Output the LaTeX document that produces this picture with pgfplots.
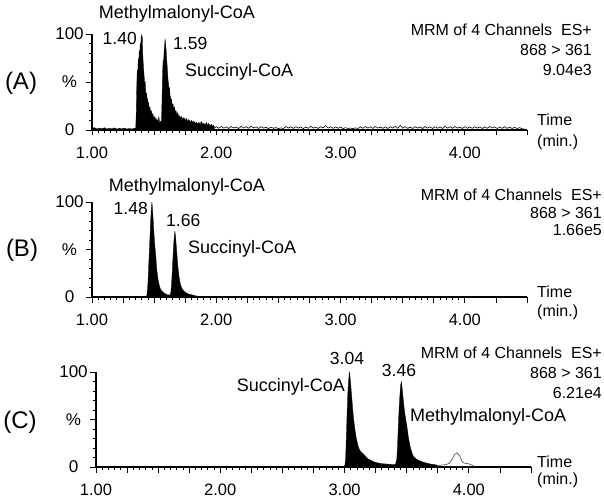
\documentclass[border=0pt]{standalone}
\usepackage{fontspec}
\setmainfont{Liberation Sans}
\usepackage{pgfplots}
\pgfplotsset{compat=1.18}
\newcommand\fs[1]{\fontsize{#1pt}{#1pt}\selectfont}
\pgfplotsset{chrom/.style={
  scale only axis, width=435pt, anchor=south west,
  xmin=1, xmax=4.5, ymin=0, ymax=100,
  axis x line*=bottom, axis y line*=left,
  axis line style={line width=1.2pt, -},
  tick align=outside,
  xtick={1,2,3,4},
  minor x tick num=19,
  extra x ticks={1.25,1.5,1.75,2.25,2.5,2.75,3.25,3.5,3.75,4.25,4.5},
  extra x tick labels={},
  ytick={0,50,100}, yticklabels={0,\%,100},
  minor y tick num=4,
  major tick length=5.5pt, minor tick length=3pt,
  tick style={line width=0.8pt, black},
  /pgf/number format/assume math mode=true,
  xticklabel style={font=\fs{16.5}, yshift=-8pt, /pgf/number format/fixed, /pgf/number format/fixed zerofill, /pgf/number format/precision=2},
  yticklabel style={font=\fs{17}, anchor=center, xshift=-17pt},
  clip=false,
}}
\begin{document}
\begin{tikzpicture}
\useasboundingbox (0,0) rectangle (604pt,501pt);
% ---------------- Panel A ----------------
\begin{axis}[chrom, at={(92pt,371pt)}, height=96pt]
\addplot[fill=black, draw=black, line width=0.3pt] coordinates {
(1.000,1.5)(1.020,2.5)(1.040,1.0)(1.060,2.0)(1.080,1.2)(1.100,2.4)(1.120,1.0)(1.140,1.8)
(1.160,1.2)(1.180,2.2)(1.200,1.0)(1.220,1.8)(1.240,1.2)(1.260,2.0)(1.280,1.0)(1.300,1.6)
(1.320,1.0)(1.340,1.8)(1.352,2)(1.356,18)(1.360,45)(1.364,62)(1.368,58)(1.372,74)
(1.376,70)(1.380,83)(1.384,78)(1.388,90)(1.392,86)(1.396,100)(1.400,93)(1.404,98)
(1.408,80)(1.412,70)(1.416,62)(1.420,55)(1.424,48)(1.428,50)(1.432,40)(1.436,36)
(1.440,38)(1.444,30)(1.448,32)(1.452,26)(1.456,28)(1.460,22)(1.466,24)(1.472,19)
(1.478,20)(1.484,15)(1.490,17)(1.496,12)(1.502,14)(1.508,10)(1.514,13)(1.520,9)
(1.526,11)(1.532,8)(1.538,14)(1.544,7)(1.550,9)(1.556,8)(1.560,12)(1.564,35)
(1.568,60)(1.572,72)(1.576,70)(1.580,82)(1.584,88)(1.588,95)(1.592,90)(1.596,84)
(1.600,76)(1.604,68)(1.608,60)(1.612,52)(1.616,48)(1.620,42)(1.624,44)(1.628,36)
(1.632,34)(1.636,30)(1.640,32)(1.646,26)(1.652,27)(1.658,22)(1.664,24)(1.670,19)
(1.676,20)(1.682,16)(1.690,18)(1.698,14)(1.706,15)(1.714,12)(1.722,14)(1.730,11)
(1.740,13)(1.750,10)(1.760,12)(1.770,9)(1.780,11)(1.790,8)(1.800,10)(1.810,8)
(1.820,9)(1.830,7)(1.840,8)(1.850,6)(1.860,8)(1.870,6)(1.880,9)(1.890,6)
(1.900,7)(1.910,5)(1.920,8)(1.930,5)(1.940,7)(1.950,4)(1.960,6)(1.970,4)
(1.980,5)(1.985,2)} \closedcycle;
\addplot[black, line width=0.6pt] coordinates {
(1.985,2)(2.000,3.5)(2.020,1.8)(2.040,3.8)(2.060,2.0)(2.080,3.2)(2.100,1.6)(2.120,3.6)
(2.140,2.2)(2.160,3.0)(2.180,1.5)(2.200,3.8)(2.220,2.0)(2.240,3.4)(2.260,1.8)(2.280,3.9)
(2.300,2.1)(2.320,3.2)(2.340,1.6)(2.360,3.5)(2.380,2.0)(2.400,2.8)(2.420,1.5)(2.440,3.0)
(2.460,1.8)(2.480,2.5)(2.500,1.5)(2.520,2.2)(2.540,1.6)(2.560,3.6)(2.580,2.0)(2.600,3.3)
(2.620,1.7)(2.640,3.5)(2.660,2.0)(2.680,3.1)(2.700,1.5)(2.720,3.0)(2.740,1.8)(2.760,3.8)
(2.780,2.0)(2.800,3.0)(2.820,1.6)(2.840,3.4)(2.860,2.2)(2.880,4.5)(2.900,2.0)(2.920,3.4)
(2.940,1.7)(2.960,3.2)(2.980,1.8)(3.000,3.0)(3.020,1.5)(3.040,2.4)(3.060,1.6)(3.080,2.0)
(3.100,1.5)(3.120,2.2)(3.140,1.6)(3.160,3.2)(3.180,1.8)(3.200,3.6)(3.220,2.0)(3.240,3.3)
(3.260,1.7)(3.280,3.6)(3.300,2.0)(3.320,3.0)(3.340,1.8)(3.360,3.2)(3.380,1.6)(3.400,3.5)
(3.420,2.0)(3.440,3.8)(3.460,1.8)(3.480,4.8)(3.500,2.0)(3.520,3.5)(3.540,1.7)(3.560,3.0)
(3.580,1.6)(3.600,3.4)(3.620,2.0)(3.640,3.1)(3.660,1.5)(3.680,3.6)(3.700,2.0)(3.720,3.3)
(3.740,1.6)(3.760,3.5)(3.780,1.8)(3.800,3.2)(3.820,1.6)(3.840,3.8)(3.860,2.0)(3.880,3.4)
(3.900,1.8)(3.920,3.6)(3.940,2.0)(3.960,3.0)(3.980,1.6)(4.000,3.5)(4.020,1.8)(4.040,3.2)
(4.060,1.7)(4.080,3.4)(4.100,2.0)(4.120,3.0)(4.140,1.6)(4.160,3.3)(4.180,1.8)(4.200,3.6)
(4.220,2.0)(4.240,3.2)(4.260,1.6)(4.280,3.0)(4.300,1.8)(4.320,3.4)(4.340,1.7)(4.360,3.1)
(4.380,1.6)(4.400,2.8)(4.420,1.5)(4.440,2.5)(4.460,1.2)(4.480,1.0)};
\end{axis}
% ---------------- Panel B ----------------
\begin{axis}[chrom, at={(92pt,204pt)}, height=95pt]
\addplot[fill=black, draw=black, line width=0.3pt] coordinates {
(1.000,0.3)(1.437,0.5)(1.442,2)(1.447,8)(1.452,20)(1.457,35)(1.462,50)(1.467,65)
(1.472,80)(1.477,92)(1.482,100)(1.487,92)(1.492,82)(1.497,70)(1.502,60)(1.507,52)
(1.512,45)(1.517,36)(1.522,28)(1.532,18)(1.542,12)(1.552,8)(1.567,5.5)(1.582,4)
(1.602,2.5)(1.622,2)(1.632,3)(1.637,8)(1.642,18)(1.647,30)(1.652,43)(1.657,55)
(1.662,64)(1.667,69)(1.672,64)(1.677,56)(1.682,47)(1.687,39)(1.692,31)(1.702,20)
(1.712,13)(1.727,8)(1.742,6)(1.762,4)(1.782,3)(1.812,2)(1.842,1)(1.892,0.5)
(4.500,0.3)} \closedcycle;
\end{axis}
% ---------------- Panel C ----------------
\begin{axis}[chrom, at={(96pt,34pt)}, height=95pt]
\addplot[fill=white, draw=black!65, line width=0.7pt] coordinates {
(3.680,1)(3.730,1.5)(3.780,2)(3.815,2.5)(3.845,4)(3.865,8)(3.885,13)(3.905,15)
(3.925,12)(3.945,6)(3.965,4)(3.995,3.5)(4.025,2)(4.045,0.5)};
\addplot[fill=black, draw=black, line width=0.3pt] coordinates {
(1.000,0.5)(2.995,0.5)(3.003,2)(3.009,10)(3.015,35)(3.021,60)(3.027,80)(3.033,92)
(3.039,100)(3.043,96)(3.049,88)(3.055,78)(3.061,68)(3.067,58)(3.075,48)(3.085,38)
(3.095,30)(3.107,23)(3.120,18)(3.135,15.5)(3.150,14)(3.170,11)(3.190,8.5)(3.210,7)
(3.235,5.5)(3.260,4.5)(3.300,3.5)(3.350,3)(3.395,2.5)(3.410,3)(3.420,8)(3.427,25)
(3.433,45)(3.439,62)(3.445,75)(3.451,86)(3.457,90)(3.461,86)(3.467,78)(3.473,70)
(3.481,60)(3.490,52)(3.500,44)(3.515,30)(3.530,20)(3.545,14)(3.555,11)(3.575,8.5)
(3.595,7)(3.615,6)(3.635,5)(3.665,4)(3.695,3)(3.725,2.5)(3.745,2)(3.750,0.5)
(4.500,0.5)} \closedcycle;
\end{axis}
% ---------------- Text ----------------
\begin{scope}[every node/.style={inner sep=0pt}]
% A
\node[font=\fs{24}] at (21pt,418pt) {(A)};
\node[font=\fs{18}] at (177pt,487pt) {Methylmalonyl-CoA};
\node[font=\fs{17.5}, anchor=east] at (137pt,463pt) {1.40};
\node[font=\fs{17.5}, anchor=west] at (173pt,458pt) {1.59};
\node[font=\fs{18}, anchor=west] at (185pt,429pt) {Succinyl-CoA};
\node[font=\fs{16}, anchor=east] at (592pt,471pt) {MRM of 4 Channels\ \ ES+};
\node[font=\fs{16}, anchor=east] at (592pt,451pt) {868 > 361};
\node[font=\fs{16}, anchor=east] at (592pt,431pt) {9.04e3};
\node[font=\fs{16}, anchor=west] at (537pt,381pt) {Time};
\node[font=\fs{16}, anchor=west] at (537pt,359pt) {(min.)};
% B
\node[font=\fs{24}] at (22pt,251pt) {(B)};
\node[font=\fs{18}] at (187pt,314pt) {Methylmalonyl-CoA};
\node[font=\fs{17.5}, anchor=east] at (148pt,293pt) {1.48};
\node[font=\fs{17.5}, anchor=west] at (166pt,281pt) {1.66};
\node[font=\fs{18}, anchor=west] at (188pt,252pt) {Succinyl-CoA};
\node[font=\fs{16}, anchor=east] at (602pt,306pt) {MRM of 4 Channels\ \ ES+};
\node[font=\fs{16}, anchor=east] at (602pt,288pt) {868 > 361};
\node[font=\fs{16}, anchor=east] at (602pt,271pt) {1.66e5};
\node[font=\fs{16}, anchor=west] at (537pt,209pt) {Time};
\node[font=\fs{16}, anchor=west] at (537pt,189pt) {(min.)};
% C
\node[font=\fs{24}] at (20pt,79pt) {(C)};
\node[font=\fs{17.5}] at (347pt,143pt) {3.04};
\node[font=\fs{17.5}] at (399pt,131pt) {3.46};
\node[font=\fs{18}, anchor=east] at (345pt,114pt) {Succinyl-CoA};
\node[font=\fs{18}, anchor=west] at (410pt,84pt) {Methylmalonyl-CoA};
\node[font=\fs{16}, anchor=east] at (602pt,148pt) {MRM of 4 Channels\ \ ES+};
\node[font=\fs{16}, anchor=east] at (602pt,128pt) {868 > 361};
\node[font=\fs{16}, anchor=east] at (602pt,108pt) {6.21e4};
\node[font=\fs{16}, anchor=west] at (537pt,39pt) {Time};
\node[font=\fs{16}, anchor=west] at (537pt,21pt) {(min.)};
\end{scope}
\end{tikzpicture}
\end{document}
